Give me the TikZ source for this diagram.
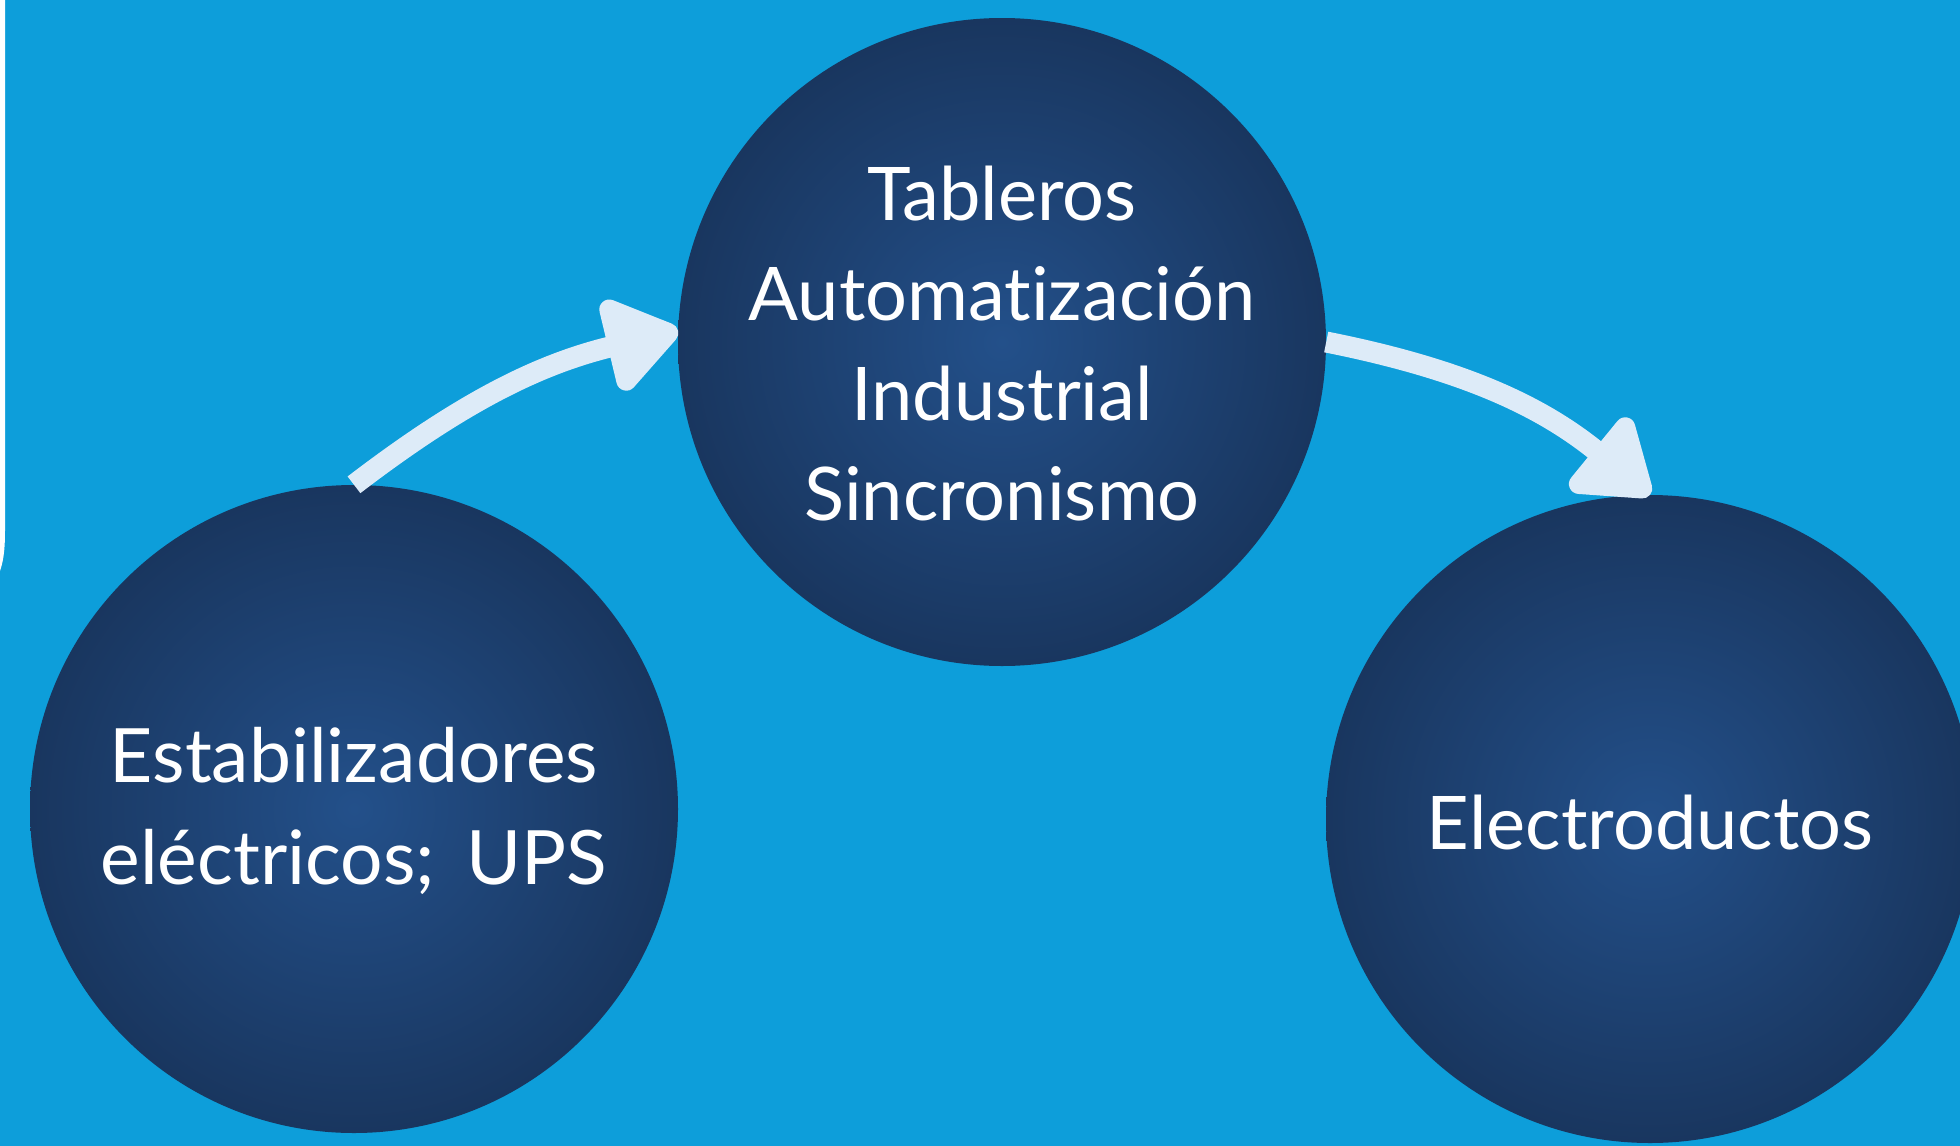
\documentclass[tikz,border=0pt]{standalone}
\usepackage{fontspec}
\setmainfont{Lato}[Ligatures={NoCommon,NoRequired,NoContextual,NoRare}]
\usetikzlibrary{arrows.meta}
\definecolor{bgblue}{HTML}{0D9EDA}
\definecolor{navyout}{HTML}{19365F}
\definecolor{navyin}{HTML}{23508A}
\definecolor{arrowcol}{HTML}{DDEBF8}
\tikzset{
  bubble/.style={circle, minimum size=648pt, inner sep=0pt, shading=radial, inner color=navyin, outer color=navyout},
  bubbletext/.style={text=white, align=center, font=\fontsize{74}{100}\selectfont, inner sep=0pt},
  flow/.style={line width=21pt, draw=arrowcol, -{Triangle[length=80pt,width=106pt,round]}}
}
\begin{document}
\begin{tikzpicture}[x=1pt,y=-1pt]
\fill[bgblue] (0,0) rectangle (1960,1146);
\useasboundingbox (0,0) rectangle (1960,1146);
\fill[white] (0,0) -- (5,0) -- (5,531) .. controls (5,552) and (3,562) .. (0,571) -- cycle;
\node[bubble] (L) at (354,809) {};
\node[bubble] (M) at (1002,342) {};
\node[bubble] (R) at (1650,819) {};
\node[bubbletext, font=\fontsize{75}{102}\selectfont] (Lt) at (354,811) {Estabilizadores\\eléctricos;\hspace{0.42em}UPS};
\node[bubbletext] (Mt) at (1002,344) {Tableros\\Automatización\\Industrial\\Sincronismo};
\node[bubbletext] (Rt) at (1650,823) {Electroductos};
\draw[flow] (L.north) to[bend left=12] (M.178);
\draw[flow] (M.east) to[bend left=14] (R.90);
\end{tikzpicture}
\end{document}
